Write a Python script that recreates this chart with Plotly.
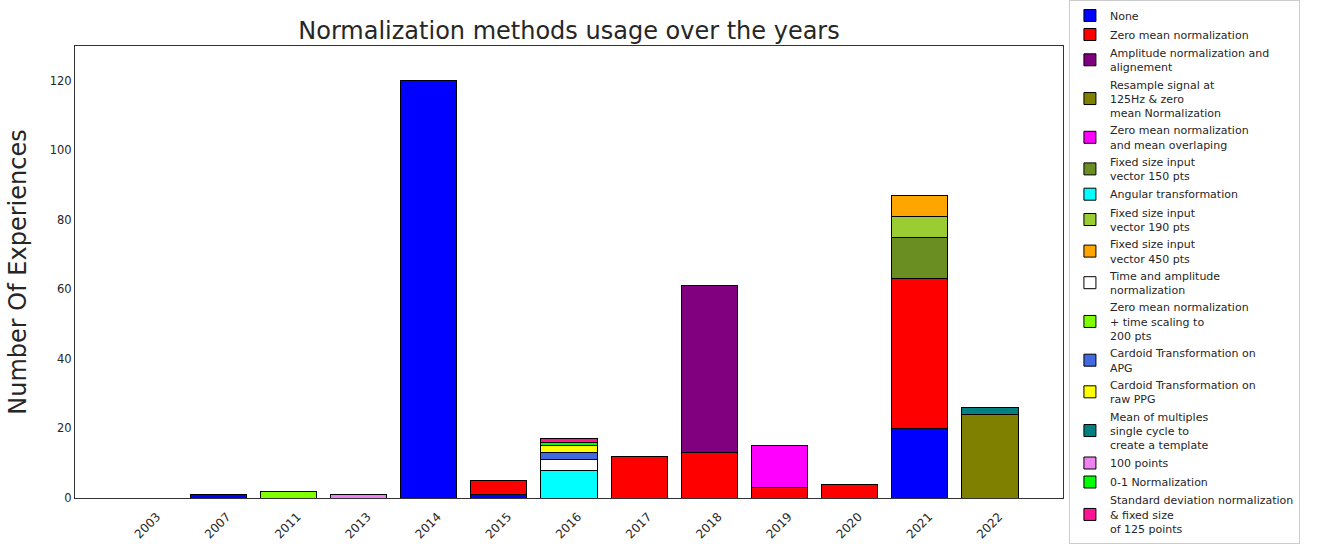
import plotly.graph_objects as go

years = ["2003", "2007", "2011", "2013", "2014", "2015", "2016", "2017", "2018", "2019", "2020", "2021", "2022"]

methods = [
    "None",
    "Zero mean normalization",
    "Amplitude normalization and<br>alignement",
    "Resample signal at<br>125Hz & zero<br>mean Normalization",
    "Zero mean normalization<br>and mean overlaping",
    "Fixed size input<br>vector 150 pts",
    "Angular transformation",
    "Fixed size input<br>vector 190 pts",
    "Fixed size input<br>vector 450 pts",
    "Time and amplitude<br>normalization",
    "Zero mean normalization<br>+ time scaling to<br>200 pts",
    "Cardoid Transformation on<br>APG",
    "Cardoid Transformation on<br>raw PPG",
    "Mean of multiples<br>single cycle to<br>create a template",
    "100 points",
    "0-1 Normalization",
    "Standard deviation normalization<br>& fixed size<br>of 125 points",
]

colors = ["#0000ff", "#ff0000", "#800080", "#808000", "#ff00ff", "#6b8e23", "#00ffff",
          "#9acd32", "#ffa500", "#ffffff", "#7fff00", "#4169e1", "#ffff00", "#008080",
          "#ee82ee", "#00ff00", "#ff1493"]

# values per method, aligned with years
v_none        = [0, 1, 0, 0, 120, 1, 0, 0, 0, 0, 0, 20, 0]
v_zero_mean   = [0, 0, 0, 0, 0, 4, 0, 12, 13, 3, 4, 43, 0]
v_amplitude   = [0, 0, 0, 0, 0, 0, 0, 0, 48, 0, 0, 0, 0]
v_resample    = [0, 0, 0, 0, 0, 0, 0, 0, 0, 0, 0, 0, 24]
v_zm_overlap  = [0, 0, 0, 0, 0, 0, 0, 0, 0, 12, 0, 0, 0]
v_fixed150    = [0, 0, 0, 0, 0, 0, 0, 0, 0, 0, 0, 12, 0]
v_angular     = [0, 0, 0, 0, 0, 0, 8, 0, 0, 0, 0, 0, 0]
v_fixed190    = [0, 0, 0, 0, 0, 0, 0, 0, 0, 0, 0, 6, 0]
v_fixed450    = [0, 0, 0, 0, 0, 0, 0, 0, 0, 0, 0, 6, 0]
v_time_amp    = [0, 0, 0, 0, 0, 0, 3, 0, 0, 0, 0, 0, 0]
v_zm_time     = [0, 0, 2, 0, 0, 0, 0, 0, 0, 0, 0, 0, 0]
v_card_apg    = [0, 0, 0, 0, 0, 0, 2, 0, 0, 0, 0, 0, 0]
v_card_raw    = [0, 0, 0, 0, 0, 0, 2, 0, 0, 0, 0, 0, 0]
v_mean_mult   = [0, 0, 0, 0, 0, 0, 0, 0, 0, 0, 0, 0, 2]
v_100pts      = [0, 0, 0, 1, 0, 0, 0, 0, 0, 0, 0, 0, 0]
v_01          = [0, 0, 0, 0, 0, 0, 1, 0, 0, 0, 0, 0, 0]
v_std         = [0, 0, 0, 0, 0, 0, 1, 0, 0, 0, 0, 0, 0]

series = [v_none, v_zero_mean, v_amplitude, v_resample, v_zm_overlap, v_fixed150, v_angular,
          v_fixed190, v_fixed450, v_time_amp, v_zm_time, v_card_apg, v_card_raw, v_mean_mult,
          v_100pts, v_01, v_std]

fig = go.Figure()
for name, col, vals in zip(methods, colors, series):
    fig.add_trace(go.Bar(
        x=years, y=[v if v else None for v in vals], name=name,
        marker=dict(color=col, line=dict(color="black", width=1)),
        width=0.8,
    ))

font = "DejaVu Sans, Arial, sans-serif"
txt = "#262626"
fig.update_layout(
    barmode="stack",
    width=1344, height=544,
    paper_bgcolor="white", plot_bgcolor="white",
    margin=dict(l=75, r=281, t=46, b=46, autoexpand=False),
    font=dict(family=font, color=txt, size=11),
    title=dict(text="Normalization methods usage over the years", x=(75 + 988 / 2) / 1344,
               xanchor="center", y=1 - 31 / 544, yanchor="middle",
               font=dict(size=24, color=txt)),
    xaxis=dict(type="category", range=[-1.04, 13.04], tickangle=-45, showgrid=False,
               showline=True, linecolor="#333333", linewidth=1, mirror=True, ticks="",
               ticklabelshift=9, ticklabelstandoff=6,
               tickfont=dict(size=12, color=txt)),
    yaxis=dict(range=[0, 130], tickvals=[0, 20, 40, 60, 80, 100, 120], showgrid=False,
               showline=True, linecolor="#333333", linewidth=1, mirror=True, ticks="",
               zeroline=False,
               title=dict(text="Number Of Experiences", font=dict(size=24, color=txt), standoff=16),
               tickfont=dict(size=11.5, color=txt)),
    legend=dict(x=1.006, xanchor="left", y=498 / 452, yanchor="top", traceorder="normal",
                bordercolor="#cccccc", borderwidth=1, bgcolor="white", maxheight=1,
                font=dict(size=11, color=txt), tracegroupgap=0, itemwidth=30),
    bargap=0.2,
)

fig.write_html("out.html", config={"displayModeBar": False},
               post_script="document.body.style.margin='0';")
